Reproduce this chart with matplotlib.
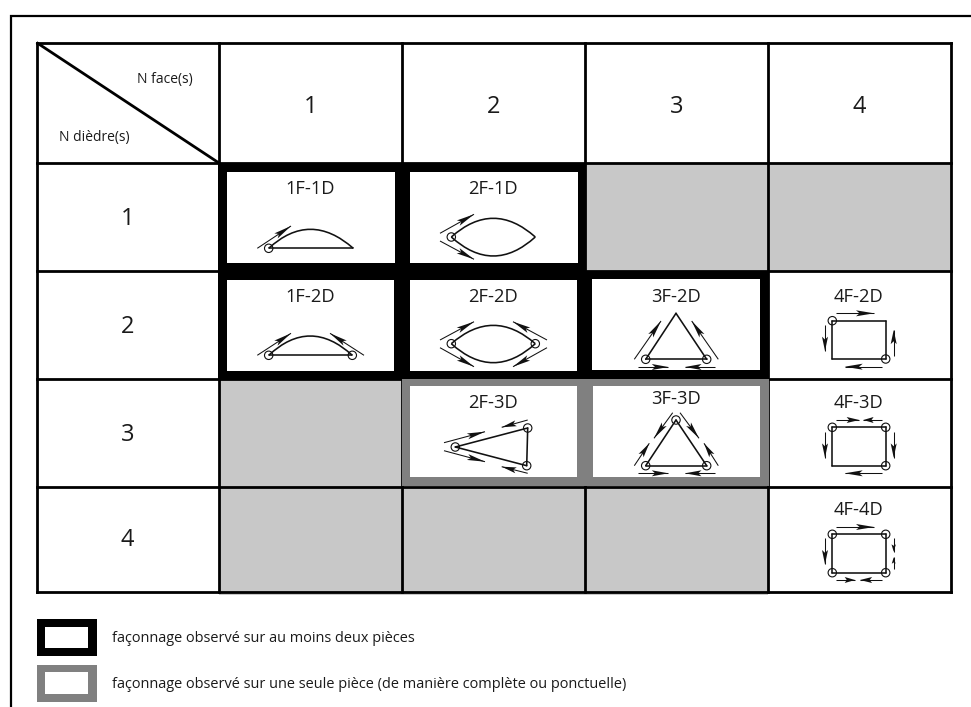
import matplotlib
matplotlib.use("Agg")
import numpy as np
from matplotlib import pyplot as plt
from matplotlib.patches import Rectangle, Circle, Polygon, PathPatch
from matplotlib.path import Path

plt.rcParams['font.family'] = ['Open Sans', 'DejaVu Sans']

col_x = [219, 402, 585, 768]
row_y = [163, 271, 379, 487]
col_labels = ['1', '2', '3', '4']
row_labels = ['1', '2', '3', '4']
absent_cells = [(2, 0), (3, 0), (0, 2), (0, 3), (1, 3), (2, 3)]

# (col, row, label, label y offset), all offsets from the top left of the cell
cell_labels = [
    (0, 0, '1F-1D', 26.5), (1, 0, '2F-1D', 26.5),
    (0, 1, '1F-2D', 25.5), (1, 1, '2F-2D', 25.5), (2, 1, '3F-2D', 25.5), (3, 1, '4F-2D', 25.5),
    (1, 2, '2F-3D', 24.5), (2, 2, '3F-3D', 20.5), (3, 2, '4F-3D', 24.5),
    (3, 3, '4F-4D', 23),
]
# white windows inside the thick frames: x0, y0, x1, y1
black_windows = [(227, 172, 395, 263), (410, 172, 578, 263), (227, 280, 394, 371),
                 (410, 280, 577, 371), (592, 279, 760, 370)]
grey_windows = [(410, 386, 577, 477), (593, 386, 760, 477)]

legend_labels = ['façonnage observé sur au moins deux pièces',
                 'façonnage observé sur une seule pièce (de manière complète ou ponctuelle)']

# sketches: lines, curves (start, control, end), circles, arrows (tail, tip)
sketches = {
    (0, 0): dict(
        lines=[((49.7, 85.3), (134.3, 85.3))],
        curves=[((49.7, 85.3), (91, 47.3), (134.3, 85.3))],
        circles=[(49.7, 85.3)],
        arrows=[((38.3, 85.3), (72, 63))]),
    (1, 0): dict(
        lines=[],
        curves=[((49.3, 74), (91.3, 36.6), (133.3, 74)), ((49.3, 74), (91.3, 112), (133.3, 74))],
        circles=[(49.3, 74)],
        arrows=[((38, 70.3), (72, 51.3)), ((38, 78), (72, 96.3))]),
    (0, 1): dict(
        lines=[((49.7, 84.3), (133.3, 84.3))],
        curves=[((49.7, 84.3), (91, 45.7), (133.3, 84.3))],
        circles=[(49.7, 84.3), (133.3, 84.3)],
        arrows=[((38.3, 84.3), (72, 62.3)), ((145, 84.3), (111, 62.3))]),
    (1, 1): dict(
        lines=[],
        curves=[((49.3, 72.7), (91.3, 36), (133.3, 72.7)), ((49.3, 72.7), (91.3, 110.7), (133.3, 72.7))],
        circles=[(49.3, 72.7), (133.3, 72.7)],
        arrows=[((38, 69), (72, 50.7)), ((38, 76.7), (72, 95.7)),
                ((145, 69), (111, 50.7)), ((145, 76.7), (111, 95.7))]),
    (2, 1): dict(
        lines=[((60.7, 88.3), (121.7, 88.3)), ((60.7, 88.3), (91, 42.3)), ((121.7, 88.3), (91, 42.3))],
        curves=[],
        circles=[(60.7, 88.3), (121.7, 88.3)],
        arrows=[((49.3, 88.3), (76, 50)), ((133.3, 88.3), (106.7, 50)),
                ((53.3, 96), (83.3, 96)), ((130, 96), (100, 96))]),
    (3, 1): dict(
        lines=[((64.3, 49.7), (117.7, 49.7)), ((117.7, 49.7), (117.7, 88)),
               ((117.7, 88), (64.3, 88)), ((64.3, 88), (64.3, 49.7))],
        curves=[],
        circles=[(64.3, 49.7), (117.7, 88)],
        arrows=[((68.3, 42.3), (106, 42.3)), ((114, 95.7), (76.7, 95.7)),
                ((57, 54), (57, 80)), ((125.7, 84.7), (125.7, 59))]),
    (1, 2): dict(
        lines=[((53.3, 68), (125.7, 49)), ((125.7, 49), (124.7, 86.7)), ((124.7, 86.7), (53.3, 68))],
        curves=[],
        circles=[(53.3, 68), (125.7, 49), (124.7, 86.7)],
        arrows=[((42, 63.7), (83, 52.7)), ((42, 71.7), (83, 82.7)),
                ((125.7, 41), (99.7, 48.3)), ((125.7, 94.3), (99.7, 87.7))]),
    (2, 2): dict(
        lines=[((60.7, 86.7), (121.7, 86.7)), ((60.7, 86.7), (91, 41)), ((121.7, 86.7), (91, 41))],
        curves=[],
        circles=[(60.7, 86.7), (121.7, 86.7), (91, 41)],
        arrows=[((49.3, 86.7), (64.3, 64.3)), ((87.7, 33.7), (69, 59.3)),
                ((95, 33.7), (114, 59.3)), ((133.3, 86.7), (119, 64.3)),
                ((53.3, 94.3), (83.3, 94.3)), ((130, 94.3), (100, 94.3))]),
    (3, 2): dict(
        lines=[((64.3, 48.3), (117.7, 48.3)), ((117.7, 48.3), (117.7, 86.7)),
               ((117.7, 86.7), (64.3, 86.7)), ((64.3, 86.7), (64.3, 48.3))],
        curves=[],
        circles=[(64.3, 48.3), (117.7, 48.3), (117.7, 86.7)],
        arrows=[((68.3, 41), (91.3, 41)), ((114, 41), (95.3, 41)), ((114, 94.3), (76.7, 94.3)),
                ((57, 52.7), (57, 78.7)), ((125.7, 52.7), (125.7, 78.7))]),
    (3, 3): dict(
        lines=[((64.3, 47.3), (117.7, 47.3)), ((117.7, 47.3), (117.7, 85.7)),
               ((117.7, 85.7), (64.3, 85.7)), ((64.3, 85.7), (64.3, 47.3))],
        curves=[],
        circles=[(64.3, 47.3), (117.7, 47.3), (117.7, 85.7), (64.3, 85.7)],
        arrows=[((68.3, 40), (106, 40)), ((57, 51.3), (57, 77.3)), ((125.7, 51.3), (125.7, 64.7)),
                ((125.7, 82), (125.7, 70.3)), ((68.3, 93), (87, 93)), ((114, 93), (92, 93))]),
}


def draw_arrow(ax, tail, tip):
    tail = np.array(tail, float)
    tip = np.array(tip, float)
    length = np.hypot(*(tip - tail))
    u = (tip - tail) / length
    n = np.array([-u[1], u[0]])
    head = min(18, 0.55 * length)
    half = min(3.0, head * 0.3)
    ax.plot([tail[0], tip[0]], [tail[1], tip[1]], color='#111111', lw=0.75, solid_capstyle='butt', zorder=5)
    ax.add_patch(Polygon([tip, tip - u * head + n * half, tip - u * head * 0.8, tip - u * head - n * half],
                         closed=True, fc='#111111', ec='none', zorder=5))


fig = plt.figure(figsize=(9.71, 7.07), facecolor='w')
ax = fig.add_axes([0, 0, 1, 1])
ax.set_xlim(0, 971)
ax.set_ylim(707, 0)
ax.axis('off')

# outer frame, open at the bottom
ax.plot([11, 11, 971], [707, 15.5, 15.5], color='k', lw=1.6, zorder=1, solid_joinstyle='miter')

for c, r in absent_cells:
    ax.add_patch(Rectangle((col_x[c], row_y[r]), 183, 108, fc='#c8c8c8', ec='none', zorder=1))

# table grid
grid_x = [36.5] + col_x + [951]
grid_y = [42.5] + row_y + [592]
for x in grid_x:
    ax.plot([x, x], [grid_y[0], grid_y[-1]], color='k', lw=2.0, zorder=2, solid_capstyle='projecting')
for y in grid_y:
    ax.plot([grid_x[0], grid_x[-1]], [y, y], color='k', lw=2.0, zorder=2, solid_capstyle='projecting')
ax.plot([36.5, 219], [42.5, 163], color='k', lw=2.0, zorder=2, solid_capstyle='butt')

# thick frames
ax.add_patch(Rectangle((402, 378), 366.5, 108, fc='#808080', ec='none', zorder=3))
ax.add_patch(Rectangle((218, 163), 367.5, 108.5, fc='k', ec='none', zorder=3))
ax.add_patch(Rectangle((218, 271), 551, 107.5, fc='k', ec='none', zorder=3))
for x0, y0, x1, y1 in black_windows + grey_windows:
    ax.add_patch(Rectangle((x0, y0), x1 - x0, y1 - y0, fc='w', ec='none', zorder=4))

# headers
ax.text(192.5, 80, 'N face(s)', fontsize=10, ha='right', va='center', color='#1a1a1a')
ax.text(59, 138, 'N dièdre(s)', fontsize=10, ha='left', va='center', color='#1a1a1a')
for x, t in zip(col_x, col_labels):
    ax.text(x + 91.5, 107, t, fontsize=17, ha='center', va='center', color='#1a1a1a')
for y, h, t in zip(row_y, [112, 112, 112, 106], row_labels):
    ax.text(127.5, y + h / 2, t, fontsize=17, ha='center', va='center', color='#1a1a1a')

for c, r, t, dy in cell_labels:
    ax.text(col_x[c] + 91, row_y[r] + dy, t, fontsize=13.2, ha='center', va='center', color='#1a1a1a', zorder=6)

for (c, r), s in sketches.items():
    org = np.array([col_x[c], row_y[r]], float)
    for a, b in s['lines']:
        ax.plot([org[0] + a[0], org[0] + b[0]], [org[1] + a[1], org[1] + b[1]],
                color='#111111', lw=1.15, zorder=5, solid_capstyle='round')
    for a, m, b in s['curves']:
        path = Path([org + a, org + m, org + b], [Path.MOVETO, Path.CURVE3, Path.CURVE3])
        ax.add_patch(PathPatch(path, fc='none', ec='#111111', lw=1.15, zorder=5))
    for p in s['circles']:
        ax.add_patch(Circle(org + p, 4.2, fc='none', ec='#111111', lw=0.8, zorder=6))
    for tail, tip in s['arrows']:
        draw_arrow(ax, org + tail, org + tip)

# legend
ax.add_patch(Rectangle((37, 619), 60, 37, fc='k', ec='none'))
ax.add_patch(Rectangle((44.7, 627.3), 43.6, 21, fc='w', ec='none', zorder=2))
ax.add_patch(Rectangle((37, 665), 60, 37, fc='#808080', ec='none'))
ax.add_patch(Rectangle((44.7, 672.3), 43.6, 21.7, fc='w', ec='none', zorder=2))
ax.text(112, 639, legend_labels[0], fontsize=10.45, ha='left', va='center', color='#1a1a1a')
ax.text(112, 684.5, legend_labels[1], fontsize=10.45, ha='left', va='center', color='#1a1a1a')

fig.savefig('out.png', dpi=100)
